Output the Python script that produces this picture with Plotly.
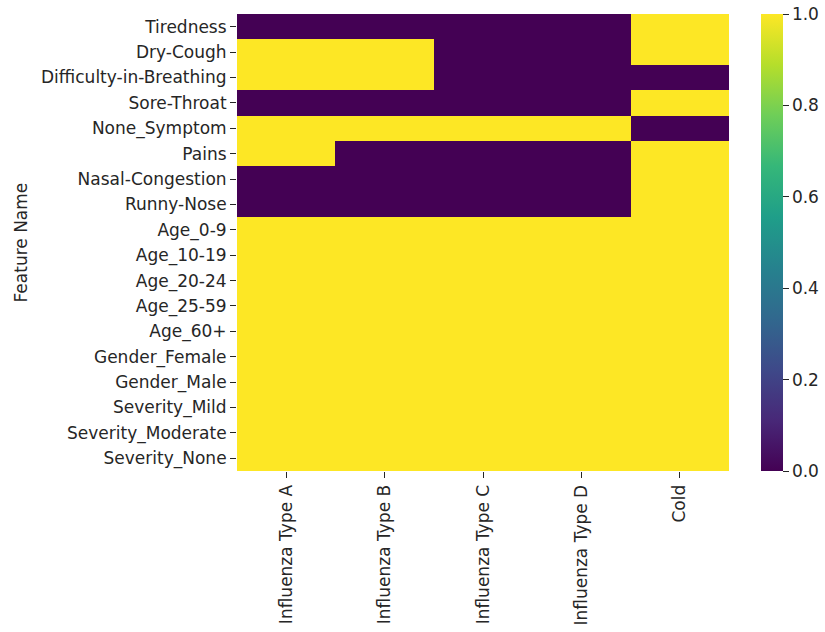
import plotly.graph_objects as go

# Symptom / demographic features (rows) and diagnosis classes (columns)
features = [
    "Tiredness", "Dry-Cough", "Difficulty-in-Breathing", "Sore-Throat",
    "None_Symptom", "Pains", "Nasal-Congestion", "Runny-Nose",
    "Age_0-9", "Age_10-19", "Age_20-24", "Age_25-59", "Age_60+",
    "Gender_Female", "Gender_Male", "Severity_Mild", "Severity_Moderate",
    "Severity_None",
]
classes = ["Influenza Type A", "Influenza Type B", "Influenza Type C",
           "Influenza Type D", "Cold"]

# Feature presence per class (one row per feature, one value per class)
tiredness = [0, 0, 0, 0, 1]
dry_cough = [1, 1, 0, 0, 1]
difficulty_breathing = [1, 1, 0, 0, 0]
sore_throat = [0, 0, 0, 0, 1]
none_symptom = [1, 1, 1, 1, 0]
pains = [1, 0, 0, 0, 1]
nasal_congestion = [0, 0, 0, 0, 1]
runny_nose = [0, 0, 0, 0, 1]
age_0_9 = [1, 1, 1, 1, 1]
age_10_19 = [1, 1, 1, 1, 1]
age_20_24 = [1, 1, 1, 1, 1]
age_25_59 = [1, 1, 1, 1, 1]
age_60_plus = [1, 1, 1, 1, 1]
gender_female = [1, 1, 1, 1, 1]
gender_male = [1, 1, 1, 1, 1]
severity_mild = [1, 1, 1, 1, 1]
severity_moderate = [1, 1, 1, 1, 1]
severity_none = [1, 1, 1, 1, 1]

z = [
    tiredness, dry_cough, difficulty_breathing, sore_throat, none_symptom,
    pains, nasal_congestion, runny_nose, age_0_9, age_10_19, age_20_24,
    age_25_59, age_60_plus, gender_female, gender_male, severity_mild,
    severity_moderate, severity_none,
]

W, H = 825, 632
left, right, top, bottom = 237, 729, 14, 471
plot_w = right - left
font = dict(family="DejaVu Sans", size=17, color="#262626")

fig = go.Figure(
    go.Heatmap(
        z=z,
        x=classes,
        y=features,
        colorscale="Viridis",
        zmin=0,
        zmax=1,
        xgap=0,
        ygap=0,
        colorbar=dict(
            x=(761 - left) / plot_w,
            xanchor="left",
            xpad=0,
            ypad=0,
            y=0.5,
            yanchor="middle",
            len=1,
            lenmode="fraction",
            thickness=22,
            thicknessmode="pixels",
            outlinewidth=0,
            ticks="outside",
            ticklen=6,
            tickwidth=1,
            tickcolor="#262626",
            tickvals=[0.0, 0.2, 0.4, 0.6, 0.8, 1.0],
            ticktext=["0.0", "0.2", "0.4", "0.6", "0.8", "1.0"],
            tickfont=font,
        ),
    )
)

fig.update_layout(
    width=W,
    height=H,
    margin=dict(l=left, r=W - right, t=top, b=H - bottom, pad=0,
                autoexpand=False),
    paper_bgcolor="white",
    plot_bgcolor="white",
    font=font,
    xaxis=dict(
        tickangle=-90,
        ticks="outside",
        ticklen=6,
        tickwidth=1,
        tickcolor="#262626",
        showgrid=False,
        zeroline=False,
        showline=False,
        tickfont=font,
    ),
    yaxis=dict(
        autorange="reversed",
        ticks="outside",
        ticklen=6,
        tickwidth=1,
        tickcolor="#262626",
        showgrid=False,
        zeroline=False,
        showline=False,
        tickfont=font,
    ),
    annotations=[
        dict(
            text="Feature Name",
            textangle=-90,
            x=(20 - left) / plot_w,
            y=0.5,
            xref="paper",
            yref="paper",
            xanchor="center",
            yanchor="middle",
            showarrow=False,
            font=font,
        )
    ],
)

fig.write_html("out.html")
